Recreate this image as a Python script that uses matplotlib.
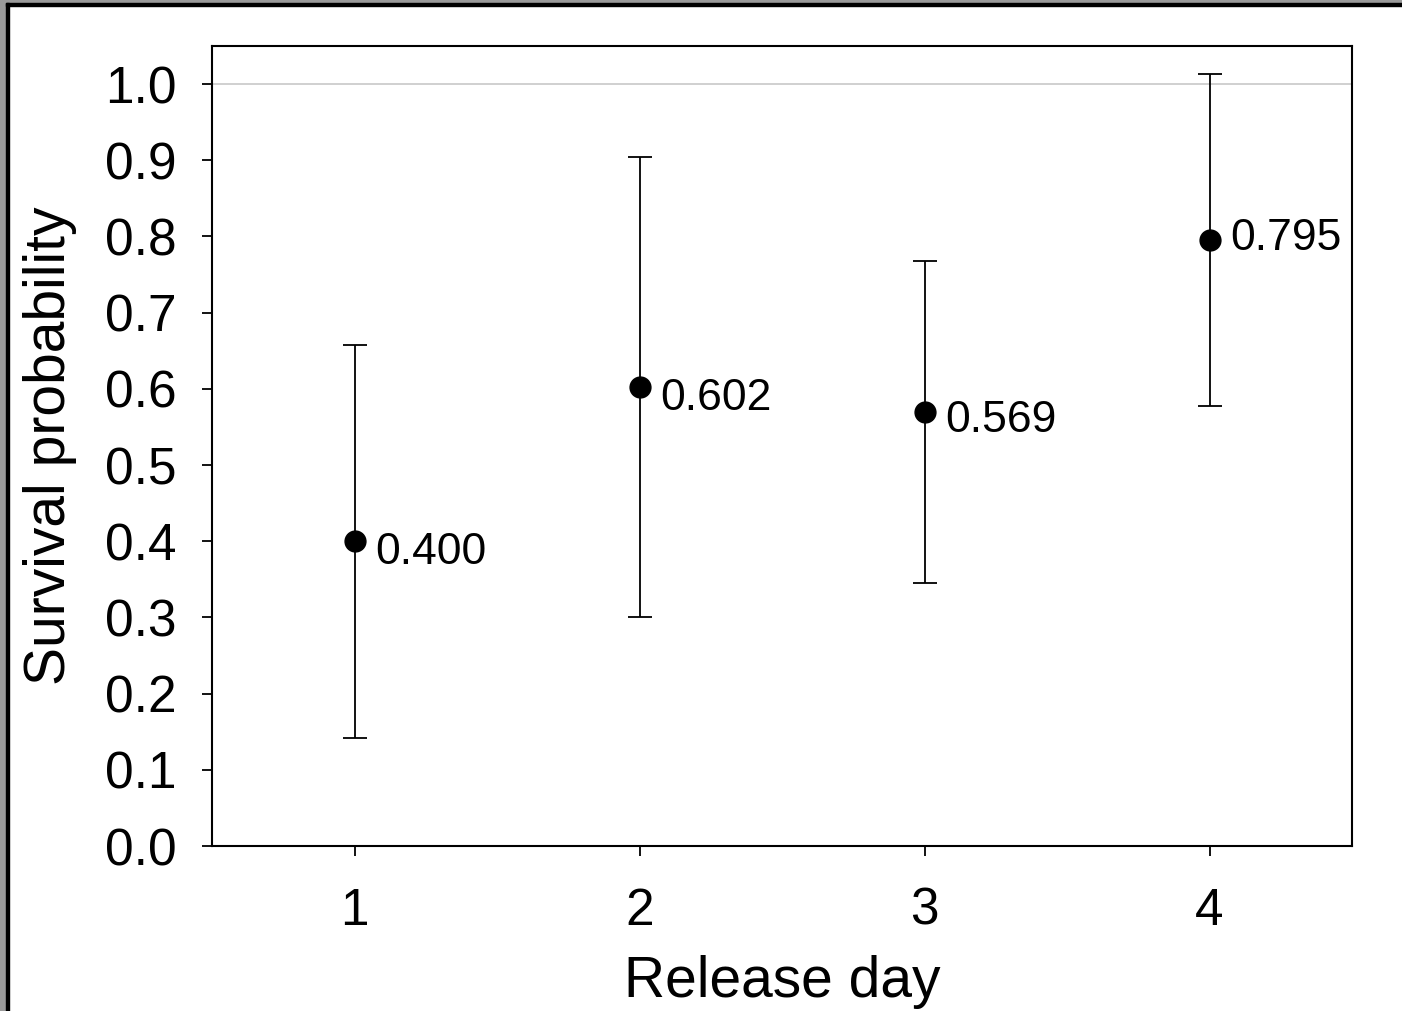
import matplotlib
matplotlib.use("Agg")
import matplotlib.pyplot as plt
from matplotlib.patches import Rectangle

plt.rcParams['font.family'] = ['Liberation Sans', 'DejaVu Sans']

days = [1, 2, 3, 4]
survival = [0.400, 0.602, 0.569, 0.795]
ci_low = [0.142, 0.300, 0.345, 0.577]
ci_high = [0.657, 0.904, 0.768, 1.013]
value_labels = ["0.400", "0.602", "0.569", "0.795"]
label_dy = [-8, -8, -6, 1]

W, H = 1402, 1011
fig = plt.figure(figsize=(W / 100, H / 100), dpi=100)
ax = fig.add_axes([212 / W, 1 - 846 / H, 1140 / W, 800 / H])

# screenshot-like frame on left and top
fig.patches.append(Rectangle((0, 0), 6 / W, 1, transform=fig.transFigure, color='#9a9a9a', zorder=0))
fig.patches.append(Rectangle((0, 1 - 3 / H), 1, 3 / H, transform=fig.transFigure, color='#9a9a9a', zorder=0))
fig.patches.append(Rectangle((6 / W, 0), 2.5 / W, 1 - 3 / H, transform=fig.transFigure, color='black', zorder=1))
fig.patches.append(Rectangle((6 / W, 1 - 5.5 / H), 1 - 6 / W, 2.5 / H, transform=fig.transFigure, color='black', zorder=1))

yerr = [[s - l for s, l in zip(survival, ci_low)], [h - s for s, h in zip(survival, ci_high)]]
ax.axhline(1.0, color='#c8c8c8', lw=1.2, zorder=1)
ax.errorbar(days, survival, yerr=yerr, fmt='o', color='black', ecolor='black',
            elinewidth=1.3, capsize=8.5, capthick=1.3, markersize=15, zorder=3)

for x, y, t, dy in zip(days, survival, value_labels, label_dy):
    ax.annotate(t, (x, y), xytext=(15, dy), textcoords='offset points',
                ha='left', va='center', fontsize=32)

ax.set_xlim(0.5, 4.5)
ax.set_ylim(0, 1.05)
ax.set_xticks(days)
ax.set_yticks([i / 10 for i in range(11)])
ax.set_yticklabels([f"{i / 10:.1f}" for i in range(11)])
ax.tick_params(axis='both', direction='out', length=7.5, width=1.3, labelsize=37, color='black', pad=13)
ax.tick_params(axis='y', pad=18)
ax.tick_params(axis='x', pad=22)
for s in ax.spines.values():
    s.set_linewidth(1.5)
ax.set_xlabel("Release day", fontsize=41, labelpad=14)
ax.set_ylabel("Survival probability", fontsize=41, labelpad=20)

fig.savefig("out.png", dpi=100)
